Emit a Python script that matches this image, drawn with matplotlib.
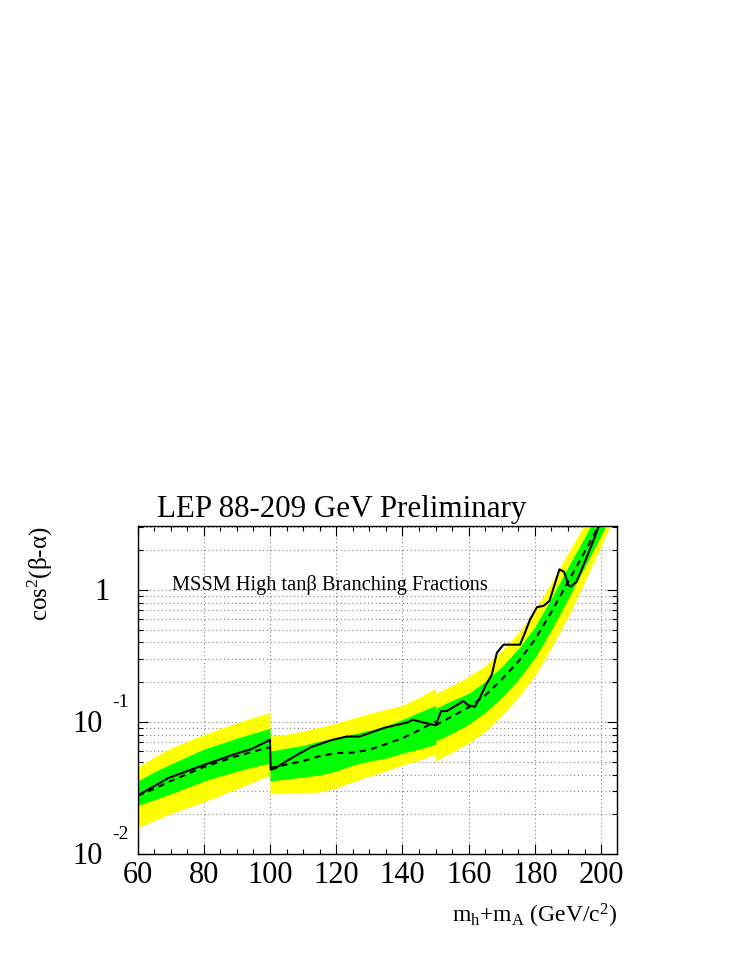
import matplotlib
matplotlib.use('Agg')
import matplotlib.pyplot as plt
from matplotlib.ticker import MultipleLocator, LogLocator, NullFormatter
from matplotlib.transforms import offset_copy

# --- data (three mass regions with separate bands) ---
x1 = [60, 65, 70, 80, 90, 100]
y1_up2 = [0.0452, 0.0542, 0.0634, 0.0801, 0.0986, 0.1183]
y1_up1 = [0.0357, 0.0418, 0.0480, 0.0623, 0.0754, 0.0896]
y1_med = [0.0276, 0.0311, 0.0357, 0.0456, 0.0551, 0.0645]
y1_lo1 = [0.0232, 0.0257, 0.0285, 0.0357, 0.0425, 0.0489]
y1_lo2 = [0.0158, 0.0179, 0.0202, 0.0248, 0.0311, 0.0396]

x2 = [100, 105, 110, 115, 120, 125, 130, 135, 140, 145, 150]
y2_up2 = [0.0780, 0.0808, 0.0851, 0.0912, 0.0978, 0.1066, 0.1163, 0.1247, 0.1336, 0.1535, 0.1795]
y2_up1 = [0.0601, 0.0634, 0.0667, 0.0716, 0.0754, 0.0808, 0.0866, 0.0928, 0.1048, 0.1183, 0.1336]
y2_med = [0.0448, 0.0476, 0.0506, 0.0551, 0.0581, 0.0586, 0.0615, 0.0679, 0.0754, 0.0866, 0.1012]
y2_lo1 = [0.0357, 0.0370, 0.0383, 0.0396, 0.0425, 0.0472, 0.0506, 0.0532, 0.0581, 0.0623, 0.0679]
y2_lo2 = [0.0285, 0.0288, 0.0290, 0.0295, 0.0317, 0.0351, 0.0390, 0.0425, 0.0472, 0.0514, 0.0571]

x3 = [150, 155, 160, 165, 170, 175, 180, 185, 190, 195, 200, 205]
y3_up2 = [0.1646, 0.1890, 0.2210, 0.2676, 0.3470, 0.4742, 0.6947, 1.149, 1.900, 3.144, 5.290, 9.218]
y3_up1 = [0.1268, 0.1457, 0.1646, 0.2026, 0.2629, 0.3592, 0.5263, 0.8703, 1.490, 2.508, 4.296, 7.484]
y3_med = [0.0944, 0.1104, 0.1290, 0.1589, 0.2098, 0.2867, 0.4200, 0.6826, 1.149, 1.933, 3.311, 5.768]
y3_lo1 = [0.0716, 0.0822, 0.0961, 0.1183, 0.1535, 0.2098, 0.3073, 0.4996, 0.8554, 1.490, 2.597, 4.767]
y3_lo2 = [0.0506, 0.0591, 0.0691, 0.0851, 0.1123, 0.1535, 0.2249, 0.3655, 0.6260, 1.149, 2.146, 4.149]

x_obs = [60, 65, 69.3, 79.4, 89.4, 94.4, 100, 100.2, 101.5, 105, 108.6, 112.6, 118.5,
         123.2, 127, 134.8, 141.8, 143, 148.5, 150, 151.7, 153.4, 158.4, 159.9, 161.9,
         163.4, 165, 167, 168.5, 170.5, 175.5, 177, 178.5, 180.6, 182.6, 184.4, 187.4,
         188.8, 190.1, 190.8, 192.6, 195.7, 197.7, 199.2, 201]
y_obs = [0.0277, 0.0326, 0.0376, 0.0466, 0.0571, 0.0623, 0.0732, 0.0436, 0.0444, 0.0506,
         0.0571, 0.0648, 0.0728, 0.0776, 0.0776, 0.0907, 0.0995, 0.1039, 0.0961, 0.0944,
         0.1210, 0.1210, 0.1439, 0.1336, 0.1306, 0.1527, 0.1867, 0.2288, 0.3334, 0.3850,
         0.3850, 0.4742, 0.5941, 0.7407, 0.7576, 0.8264, 1.432, 1.373, 1.091, 1.059,
         1.155, 1.782, 2.381, 3.000, 4.008]

plt.rcParams['font.family'] = ['Liberation Serif', 'DejaVu Serif']
plt.rcParams['mathtext.fontset'] = 'custom'
plt.rcParams['mathtext.rm'] = 'Liberation Serif'
plt.rcParams['mathtext.it'] = 'Liberation Serif:italic'

fig = plt.figure(figsize=(7.41, 9.59), dpi=100, facecolor='white')
ax = fig.add_axes([0.1856, 0.1095, 0.6471, 0.342])
ax.set_yscale('log')

segments = [
    (x1, y1_lo2, y1_lo1, y1_med, y1_up1, y1_up2),
    (x2, y2_lo2, y2_lo1, y2_med, y2_up1, y2_up2),
    (x3, y3_lo2, y3_lo1, y3_med, y3_up1, y3_up2),
]
for xs, lo2, lo1, med, up1, up2 in segments:
    ax.fill_between(xs, lo2, up2, color='#ffff00', lw=0, zorder=2)
    ax.fill_between(xs, lo1, up1, color='#00ff00', lw=0, zorder=2.1)
    ax.plot(xs, med, color='black', ls=(0, (3, 2.5)), lw=1.5, zorder=3)

ax.plot(x_obs, y_obs, color='black', lw=1.5, zorder=4)

ax.set_xlim(60, 204.8)
ax.set_ylim(0.01, 3.05)

# axes / ticks in ROOT style
ax.xaxis.set_major_locator(MultipleLocator(20))
ax.xaxis.set_minor_locator(MultipleLocator(5))
ax.yaxis.set_major_locator(LogLocator(base=10, numticks=10))
ax.yaxis.set_minor_locator(LogLocator(base=10, subs=range(2, 10), numticks=20))
ax.yaxis.set_major_formatter(NullFormatter())
ax.yaxis.set_minor_formatter(NullFormatter())
ax.tick_params(which='both', direction='in', top=True, right=True, width=0.8)
ax.tick_params(which='major', length=7.5)
ax.tick_params(which='minor', length=3.8)
ax.tick_params(axis='x', labelsize=22, pad=5)
for sp in ax.spines.values():
    sp.set_linewidth(1.0)

ax.set_axisbelow(True)
ax.grid(True, which='major', axis='x', ls=(0, (1, 2.5)), color='#808080', lw=0.8)
ax.grid(True, which='both', axis='y', ls=(0, (1, 2.5)), color='#808080', lw=0.8)

# y tick labels: "10" with exponent
base = ax.get_yaxis_transform()
for val, exp in [(0.01, '-2'), (0.1, '-1')]:
    ax.text(0, val, '10', transform=offset_copy(base, fig, x=-34.5, y=-10.5, units='dots'),
            ha='right', va='baseline', fontsize=22)
    ax.text(0, val, exp, transform=offset_copy(base, fig, x=-25.5, y=14.5, units='dots'),
            ha='left', va='baseline', fontsize=14)
ax.text(0, 1, '1', transform=offset_copy(base, fig, x=-27.5, y=-10.5, units='dots'),
        ha='right', va='baseline', fontsize=22)

fig.text(157 / 741, 1 - 517 / 959, 'LEP 88-209 GeV Preliminary',
         ha='left', va='baseline', fontsize=22.3)
fig.text(171.7 / 741, 1 - 590 / 959, 'MSSM High tanβ Branching Fractions',
         ha='left', va='baseline', fontsize=14.7)
fig.text(617 / 741, 1 - 923 / 959, r'm$_{\rm h}$+m$_{\rm A}$ (GeV/c$^{2}$)',
         ha='right', va='baseline', fontsize=17)
fig.text(40 / 741, 1 - 526 / 959, 'cos$^{2}$(β-α)', rotation=90,
         ha='center', va='top', fontsize=18)

fig.savefig('out.png', dpi=100, facecolor='white')
